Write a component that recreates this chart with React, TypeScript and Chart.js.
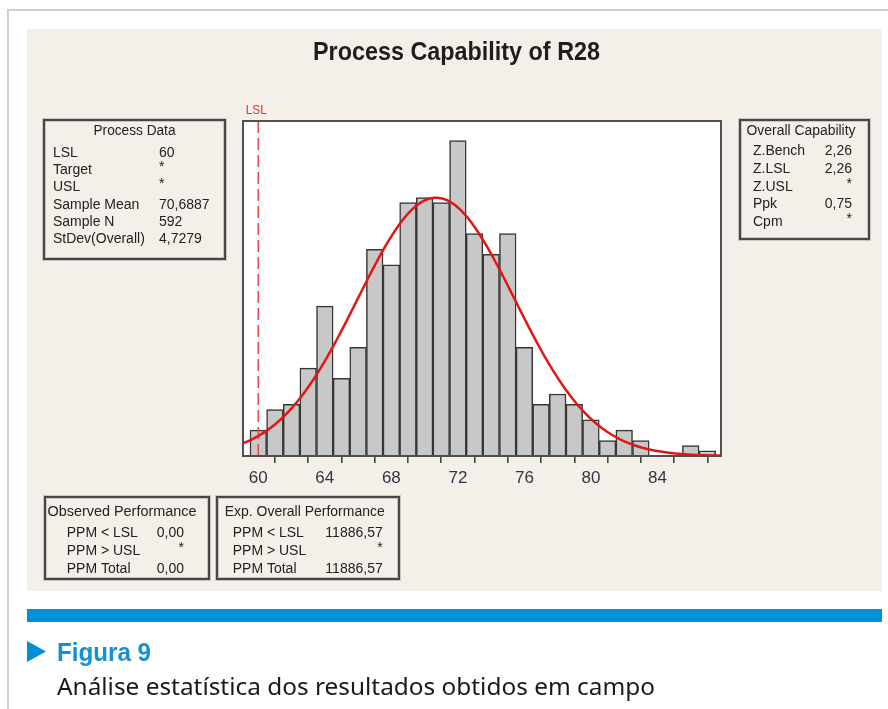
import React, { useEffect, useRef } from 'react';
import { Chart, registerables } from 'chart.js';

Chart.register(...registerables);

// ---- Data ----
const BIN_CENTERS = [60, 61, 62, 63, 64, 65, 66, 67, 68, 69, 70, 71, 72, 73, 74, 75, 76, 77, 78, 79, 80, 81, 82, 83, 84, 85, 86, 87];
const BIN_COUNTS = [5, 9, 10, 17, 29, 15, 21, 40, 37, 49, 50, 49, 61, 43, 39, 43, 21, 10, 12, 10, 7, 3, 5, 3, 0, 0, 2, 1];
const BIN_WIDTH = 1;
const X_TICKS = [60, 62, 64, 66, 68, 70, 72, 74, 76, 78, 80, 82, 84, 86];
const X_TICK_LABELS = [60, 64, 68, 72, 76, 80, 84];
const X_MIN = 59.08;
const X_MAX = 87.82;
const Y_MAX = 64.8;

const LSL = 60;
const SAMPLE_MEAN = 70.6887;
const SAMPLE_N = 592;
const STDEV_OVERALL = 4.7279;

const TITLE = 'Process Capability of R28';
const PROCESS_DATA_LABELS = ['LSL', 'Target', 'USL', 'Sample Mean', 'Sample N', 'StDev(Overall)'];
const PROCESS_DATA_VALUES = ['60', '*', '*', '70,6887', '592', '4,7279'];
const CAPABILITY_LABELS = ['Z.Bench', 'Z.LSL', 'Z.USL', 'Ppk', 'Cpm'];
const CAPABILITY_VALUES = ['2,26', '2,26', '*', '0,75', '*'];
const PERF_LABELS = ['PPM < LSL', 'PPM > USL', 'PPM Total'];
const OBSERVED_VALUES = ['0,00', '*', '0,00'];
const EXPECTED_VALUES = ['11886,57', '*', '11886,57'];
const FIGURE_LABEL = 'Figura 9';
const FIGURE_CAPTION = 'Análise estatística dos resultados obtidos em campo';

// Fitted normal curve (Minitab overlay) from the displayed Sample Mean, StDev(Overall) and Sample N
function fittedNormal() {
  const pts: { x: number; y: number }[] = [];
  const steps = 300;
  for (let i = 0; i <= steps; i++) {
    const x = X_MIN + ((X_MAX - X_MIN) * i) / steps;
    const z = (x - SAMPLE_MEAN) / STDEV_OVERALL;
    const y = (SAMPLE_N * BIN_WIDTH * Math.exp(-0.5 * z * z)) / (STDEV_OVERALL * Math.sqrt(2 * Math.PI));
    pts.push({ x, y });
  }
  return pts;
}

const BOX_FONT = '14px "Liberation Sans", Arial, sans-serif';
const BOX_COLOR = '#222222';

function drawText(
  ctx: CanvasRenderingContext2D,
  s: string,
  x: number,
  y: number,
  font: string,
  color: string,
  align: 'left' | 'center' | 'right' = 'left',
  width?: number,
  baseline: CanvasTextBaseline = 'middle'
) {
  ctx.save();
  ctx.font = font;
  ctx.fillStyle = color;
  ctx.textBaseline = baseline;
  ctx.textAlign = 'left';
  const w = ctx.measureText(s).width;
  const sx = width ? width / w : 1;
  const tw = w * sx;
  const left = align === 'center' ? x - tw / 2 : align === 'right' ? x - tw : x;
  ctx.translate(left, y);
  ctx.scale(sx, 1);
  ctx.fillText(s, 0, 0);
  ctx.restore();
}

function drawBox(ctx: CanvasRenderingContext2D, x1: number, y1: number, x2: number, y2: number) {
  ctx.save();
  ctx.strokeStyle = 'rgba(120,120,120,0.35)';
  ctx.lineWidth = 4;
  ctx.strokeRect(x1, y1, x2 - x1, y2 - y1);
  ctx.strokeStyle = '#474747';
  ctx.lineWidth = 2;
  ctx.strokeRect(x1, y1, x2 - x1, y2 - y1);
  ctx.restore();
}

const decorPlugin = {
  id: 'decor',
  beforeDraw(chart: any) {
    const ctx: CanvasRenderingContext2D = chart.ctx;
    const area = chart.chartArea;
    const xs = chart.scales.x;
    ctx.save();
    // page
    ctx.fillStyle = '#ffffff';
    ctx.fillRect(0, 0, chart.width, chart.height);
    ctx.strokeStyle = '#d0d0d0';
    ctx.lineWidth = 2;
    ctx.beginPath();
    ctx.moveTo(7, 10);
    ctx.lineTo(chart.width, 10);
    ctx.moveTo(8, 9);
    ctx.lineTo(8, chart.height);
    ctx.stroke();
    // beige panel
    ctx.fillStyle = '#f4f0e9';
    ctx.fillRect(27, 29, 855, 562);
    // plot area
    ctx.fillStyle = '#ffffff';
    ctx.fillRect(area.left, area.top, area.right - area.left, area.bottom - area.top);

    // title
    drawText(ctx, TITLE, 456.5, 60, 'bold 26px "Liberation Sans", Arial, sans-serif', '#1e1e1e', 'center', 287, 'alphabetic');

    // LSL label
    drawText(ctx, 'LSL', xs.getPixelForValue(LSL) - 2, 110.5, '12px "Liberation Sans", Arial, sans-serif', '#e8302c', 'center', 21);

    // Process Data box
    drawBox(ctx, 44, 120, 225, 259);
    drawText(ctx, 'Process Data', 134.5, 131.5, BOX_FONT, BOX_COLOR, 'center', 82);
    PROCESS_DATA_LABELS.forEach((l, i) => {
      const y = 153 + i * 17.3;
      drawText(ctx, l, 53, y, BOX_FONT, BOX_COLOR, 'left');
      const v = PROCESS_DATA_VALUES[i];
      drawText(ctx, v, 159, v === '*' ? y - 3 : y, BOX_FONT, BOX_COLOR, 'left');
    });

    // Overall Capability box
    drawBox(ctx, 740, 120, 869, 239);
    drawText(ctx, 'Overall Capability', 801, 131.5, BOX_FONT, BOX_COLOR, 'center', 109);
    CAPABILITY_LABELS.forEach((l, i) => {
      const y = 151.5 + i * 17.7;
      drawText(ctx, l, 753, y, BOX_FONT, BOX_COLOR, 'left');
      const v = CAPABILITY_VALUES[i];
      drawText(ctx, v, 852, v === '*' ? y - 3 : y, BOX_FONT, BOX_COLOR, 'right');
    });

    // Observed Performance box
    drawBox(ctx, 45, 497, 209, 579);
    drawText(ctx, 'Observed Performance', 122, 512.3, BOX_FONT, BOX_COLOR, 'center', 149);
    PERF_LABELS.forEach((l, i) => {
      const y = 533.3 + i * 17.9;
      drawText(ctx, l, 66.7, y, BOX_FONT, BOX_COLOR, 'left');
      const v = OBSERVED_VALUES[i];
      drawText(ctx, v, 184, v === '*' ? y - 3 : y, BOX_FONT, BOX_COLOR, 'right');
    });

    // Exp. Overall Performance box
    drawBox(ctx, 217, 497, 399, 579);
    drawText(ctx, 'Exp. Overall Performance', 304.7, 512.3, BOX_FONT, BOX_COLOR, 'center', 160);
    PERF_LABELS.forEach((l, i) => {
      const y = 533.3 + i * 17.9;
      drawText(ctx, l, 232.7, y, BOX_FONT, BOX_COLOR, 'left');
      const v = EXPECTED_VALUES[i];
      drawText(ctx, v, 382.7, v === '*' ? y - 3 : y, BOX_FONT, BOX_COLOR, 'right');
    });

    // caption area
    ctx.fillStyle = '#0090d6';
    ctx.fillRect(27, 609, 855, 13);
    ctx.beginPath();
    ctx.moveTo(27, 641);
    ctx.lineTo(46, 651.5);
    ctx.lineTo(27, 662);
    ctx.closePath();
    ctx.fill();
    drawText(ctx, FIGURE_LABEL, 57, 661, 'bold 25px "Liberation Sans", Arial, sans-serif', '#1590d4', 'left', 94, 'alphabetic');
    drawText(ctx, FIGURE_CAPTION, 57, 695, '24px "Noto Sans", "Open Sans", sans-serif', '#1a1a1a', 'left', 598, 'alphabetic');
    ctx.restore();
  },
  afterDatasetsDraw(chart: any) {
    const ctx: CanvasRenderingContext2D = chart.ctx;
    const a = chart.chartArea;
    ctx.save();
    ctx.strokeStyle = '#505050';
    ctx.lineWidth = 2;
    ctx.strokeRect(a.left, a.top, a.right - a.left, a.bottom - a.top);
    ctx.restore();
  },
};

export default function App() {
  const ref = useRef<HTMLCanvasElement | null>(null);

  useEffect(() => {
    if (!ref.current) return;
    const chart = new Chart(ref.current, {
      type: 'bar',
      data: {
        datasets: [
          {
            type: 'line',
            label: 'Normal',
            data: fittedNormal(),
            borderColor: '#e31616',
            borderWidth: 2.5,
            pointRadius: 0,
            tension: 0,
            order: 0,
          } as any,
          {
            type: 'line',
            label: 'LSL',
            data: [
              { x: LSL, y: 0 },
              { x: LSL, y: Y_MAX },
            ],
            borderColor: '#e64a4a',
            borderWidth: 1.6,
            borderDash: [12, 5],
            pointRadius: 0,
            order: 1,
          } as any,
          {
            type: 'bar',
            label: 'R28',
            data: BIN_CENTERS.map((x, i) => ({ x, y: BIN_COUNTS[i] })),
            backgroundColor: '#c8c8c8',
            borderColor: '#363636',
            borderWidth: 1.5,
            barPercentage: 1,
            categoryPercentage: 1,
            order: 2,
          } as any,
        ],
      },
      options: {
        responsive: false,
        animation: false,
        layout: { padding: { left: 243, right: 167, top: 121, bottom: 223 } },
        plugins: {
          legend: { display: false },
          tooltip: { enabled: false },
          title: { display: false },
        },
        scales: {
          x: {
            type: 'linear',
            min: X_MIN,
            max: X_MAX,
            offset: false,
            afterFit: (s: any) => {
              s.height = 30;
            },
            afterBuildTicks: (s: any) => {
              s.ticks = X_TICKS.map((v) => ({ value: v }));
            },
            grid: {
              display: true,
              drawOnChartArea: false,
              drawTicks: true,
              tickLength: 7,
              color: '#444444',
              lineWidth: 1.6,
            },
            border: { display: false },
            ticks: {
              autoSkip: false,
              maxRotation: 0,
              padding: 5,
              color: '#343446',
              font: { family: '"Liberation Sans", Arial, sans-serif', size: 17 },
              callback: (v: any) => (X_TICK_LABELS.includes(Number(v)) ? String(v) : ''),
            },
          },
          y: { display: false, min: 0, max: Y_MAX },
        },
      } as any,
      plugins: [decorPlugin],
    });
    return () => chart.destroy();
  }, []);

  return (
    <div style={{ position: 'absolute', left: 0, top: 0, width: 888, height: 709 }}>
      <canvas ref={ref} width={888} height={709} style={{ display: 'block' }} />
    </div>
  );
}
